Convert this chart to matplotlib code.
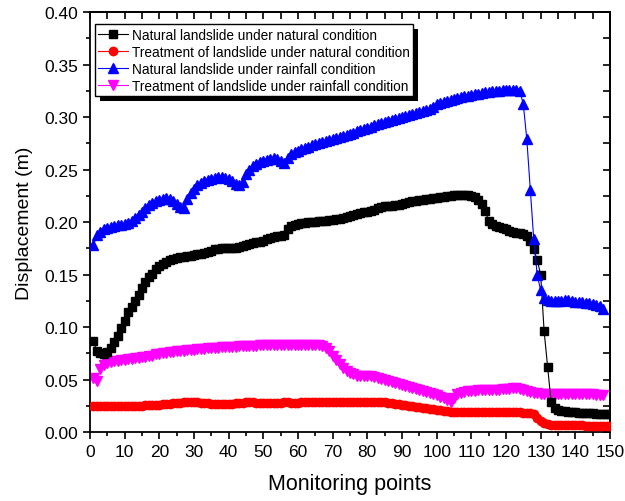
import numpy as np
import matplotlib
matplotlib.use("Agg")
import matplotlib.pyplot as plt
from matplotlib.patches import Rectangle
from matplotlib.ticker import MultipleLocator, FormatStrFormatter

plt.rcParams['font.family'] = ['Liberation Sans', 'DejaVu Sans']

# displacement (m) at monitoring points 1..150
natural_natural = [
    0.087, 0.077, 0.075, 0.074, 0.076, 0.080, 0.086, 0.092, 0.099, 0.106,
    0.114, 0.119, 0.125, 0.131, 0.137, 0.143, 0.148, 0.151, 0.155, 0.158,
    0.160, 0.162, 0.164, 0.165, 0.166, 0.167, 0.167, 0.168, 0.168, 0.169,
    0.170, 0.170, 0.171, 0.172, 0.173, 0.174, 0.174, 0.175, 0.175, 0.175,
    0.175, 0.175, 0.176, 0.177, 0.178, 0.179, 0.180, 0.181, 0.181, 0.182,
    0.184, 0.185, 0.186, 0.187, 0.187, 0.188, 0.193, 0.196, 0.197, 0.198,
    0.199, 0.199, 0.200, 0.200, 0.200, 0.201, 0.201, 0.201, 0.202, 0.202,
    0.203, 0.203, 0.204, 0.205, 0.206, 0.207, 0.208, 0.209, 0.210, 0.210,
    0.211, 0.212, 0.213, 0.214, 0.215, 0.215, 0.215, 0.216, 0.216, 0.217,
    0.218, 0.219, 0.220, 0.220, 0.221, 0.221, 0.222, 0.222, 0.223, 0.223,
    0.224, 0.224, 0.225, 0.225, 0.226, 0.226, 0.226, 0.226, 0.226, 0.225,
    0.224, 0.221, 0.217, 0.211, 0.201, 0.198, 0.196, 0.195, 0.194, 0.193,
    0.192, 0.191, 0.190, 0.190, 0.189, 0.187, 0.182, 0.174, 0.164, 0.150,
    0.096, 0.062, 0.029, 0.023, 0.021, 0.020, 0.020, 0.019, 0.019, 0.019,
    0.018, 0.018, 0.018, 0.018, 0.018, 0.017, 0.017, 0.017, 0.017, 0.017,
]

treated_natural = [
    0.025, 0.025, 0.025, 0.025, 0.025, 0.025, 0.025, 0.025, 0.025, 0.025,
    0.025, 0.025, 0.025, 0.025, 0.025, 0.026, 0.026, 0.026, 0.026, 0.026,
    0.027, 0.027, 0.027, 0.028, 0.028, 0.028, 0.029, 0.029, 0.029, 0.029,
    0.029, 0.028, 0.028, 0.028, 0.027, 0.027, 0.027, 0.027, 0.027, 0.027,
    0.027, 0.028, 0.028, 0.028, 0.029, 0.029, 0.029, 0.028, 0.028, 0.028,
    0.028, 0.028, 0.028, 0.028, 0.028, 0.029, 0.029, 0.028, 0.028, 0.028,
    0.029, 0.029, 0.029, 0.029, 0.029, 0.029, 0.029, 0.029, 0.029, 0.029,
    0.029, 0.029, 0.029, 0.029, 0.029, 0.029, 0.029, 0.029, 0.029, 0.029,
    0.029, 0.029, 0.029, 0.029, 0.029, 0.028, 0.028, 0.027, 0.027, 0.026,
    0.026, 0.025, 0.025, 0.024, 0.024, 0.023, 0.023, 0.022, 0.022, 0.021,
    0.021, 0.020, 0.020, 0.019, 0.019, 0.019, 0.019, 0.019, 0.019, 0.019,
    0.019, 0.019, 0.019, 0.019, 0.019, 0.019, 0.019, 0.019, 0.019, 0.019,
    0.019, 0.019, 0.019, 0.019, 0.018, 0.018, 0.018, 0.017, 0.014, 0.011,
    0.009, 0.008, 0.007, 0.007, 0.007, 0.007, 0.007, 0.007, 0.007, 0.007,
    0.007, 0.007, 0.006, 0.006, 0.006, 0.006, 0.006, 0.006, 0.006, 0.006,
]

# monitoring points 1..148
natural_rain = [
    0.178, 0.188, 0.191, 0.193, 0.194, 0.195, 0.196, 0.197, 0.197, 0.198,
    0.199, 0.201, 0.204, 0.207, 0.210, 0.213, 0.216, 0.218, 0.220, 0.221,
    0.222, 0.223, 0.222, 0.220, 0.217, 0.214, 0.213, 0.222, 0.228, 0.232,
    0.235, 0.237, 0.239, 0.240, 0.241, 0.242, 0.243, 0.243, 0.242, 0.241,
    0.239, 0.236, 0.235, 0.238, 0.246, 0.250, 0.253, 0.255, 0.257, 0.258,
    0.259, 0.260, 0.261, 0.260, 0.258, 0.256, 0.261, 0.265, 0.267, 0.268,
    0.270, 0.271, 0.272, 0.273, 0.274, 0.275, 0.276, 0.277, 0.278, 0.279,
    0.280, 0.281, 0.282, 0.283, 0.284, 0.285, 0.287, 0.288, 0.289, 0.290,
    0.291, 0.292, 0.293, 0.294, 0.295, 0.296, 0.297, 0.298, 0.299, 0.300,
    0.301, 0.302, 0.303, 0.304, 0.305, 0.306, 0.307, 0.308, 0.310, 0.312,
    0.313, 0.314, 0.315, 0.316, 0.317, 0.318, 0.319, 0.320, 0.320, 0.321,
    0.322, 0.322, 0.323, 0.324, 0.324, 0.325, 0.325, 0.325, 0.326, 0.326,
    0.326, 0.326, 0.326, 0.325, 0.312, 0.279, 0.231, 0.184, 0.150, 0.135,
    0.128, 0.126, 0.125, 0.125, 0.125, 0.125, 0.126, 0.126, 0.125, 0.124,
    0.124, 0.124, 0.123, 0.123, 0.122, 0.121, 0.120, 0.117,
]

treated_rain = [
    0.052, 0.049, 0.060, 0.064, 0.066, 0.067, 0.068, 0.068, 0.069, 0.069,
    0.070, 0.070, 0.071, 0.071, 0.072, 0.072, 0.073, 0.073, 0.074, 0.074,
    0.075, 0.075, 0.076, 0.076, 0.077, 0.077, 0.077, 0.078, 0.078, 0.078,
    0.079, 0.079, 0.079, 0.080, 0.080, 0.080, 0.080, 0.081, 0.081, 0.081,
    0.081, 0.081, 0.082, 0.082, 0.082, 0.082, 0.082, 0.082, 0.083, 0.083,
    0.083, 0.083, 0.083, 0.083, 0.083, 0.083, 0.083, 0.083, 0.083, 0.083,
    0.083, 0.083, 0.083, 0.083, 0.083, 0.083, 0.082, 0.080, 0.077, 0.073,
    0.069, 0.065, 0.061, 0.058, 0.056, 0.055, 0.054, 0.054, 0.054, 0.054,
    0.054, 0.053, 0.052, 0.051, 0.050, 0.049, 0.048, 0.047, 0.046, 0.045,
    0.044, 0.043, 0.042, 0.041, 0.040, 0.039, 0.038, 0.037, 0.036, 0.035,
    0.034, 0.033, 0.031, 0.029, 0.033, 0.036, 0.037, 0.038, 0.039, 0.039,
    0.039, 0.040, 0.040, 0.040, 0.040, 0.040, 0.040, 0.040, 0.041, 0.041,
    0.041, 0.042, 0.042, 0.041, 0.040, 0.039, 0.038, 0.037, 0.037, 0.036,
    0.036, 0.036, 0.036, 0.036, 0.036, 0.036, 0.036, 0.036, 0.036, 0.036,
    0.036, 0.036, 0.036, 0.036, 0.036, 0.035, 0.035, 0.035,
]

labels = [
    'Natural landslide under natural condition',
    'Treatment of landslide under natural condition',
    'Natural landslide under rainfall condition',
    'Treatment of landslide under rainfall condition',
]

fig = plt.figure(figsize=(6.25, 5.02), dpi=100)
ax = fig.add_axes([0.144, 0.137, 0.832, 0.837])

x_nat = np.arange(1, len(natural_natural) + 1)
x_rain = np.arange(1, len(natural_rain) + 1)

h1, = ax.plot(x_nat, natural_natural, color='black', lw=0.8, marker='s',
              ms=5.5, zorder=4, label=labels[0])
h2, = ax.plot(x_nat, treated_natural, color='red', lw=0.8, marker='o',
              ms=6, zorder=3, label=labels[1])
h3, = ax.plot(x_rain, natural_rain, color='blue', lw=0.8, marker='^',
              ms=6.5, zorder=5, label=labels[2])
h4, = ax.plot(x_rain, treated_rain, color='magenta', lw=0.8, marker='v',
              ms=6.5, zorder=2, label=labels[3])

ax.set_xlim(0, 150)
ax.set_ylim(0, 0.40)
ax.xaxis.set_major_locator(MultipleLocator(10))
ax.xaxis.set_minor_locator(MultipleLocator(5))
ax.yaxis.set_major_locator(MultipleLocator(0.05))
ax.yaxis.set_minor_locator(MultipleLocator(0.025))
ax.yaxis.set_major_formatter(FormatStrFormatter('%.2f'))
ax.tick_params(which='major', direction='out', length=5, width=1.2,
               labelsize=12.5)
ax.tick_params(which='minor', direction='out', length=3, width=1.2)

# inward ticks on the top and right edges
top = ax.secondary_xaxis('top')
top.xaxis.set_major_locator(MultipleLocator(5))
top.tick_params(direction='in', length=5, width=1.2, labeltop=False)
right = ax.secondary_yaxis('right')
right.yaxis.set_major_locator(MultipleLocator(0.025))
right.tick_params(direction='in', length=5, width=1.2, labelright=False)

for sp in list(ax.spines.values()) + [top.spines['top'], right.spines['right']]:
    sp.set_linewidth(1.3)

ax.set_xlabel('Monitoring points', fontsize=15.5, labelpad=10)
ax.set_ylabel('Displacement (m)', fontsize=14, labelpad=8)

leg = ax.legend(handles=[h1, h2, h3, h4], loc='upper left',
                bbox_to_anchor=(0.009, 0.971), fontsize=9.8, fancybox=False,
                edgecolor='black', framealpha=1, borderpad=0.25,
                labelspacing=0.22, handlelength=2.2, handletextpad=0.3,
                borderaxespad=0)
leg.get_frame().set_linewidth(1.0)
leg.set_zorder(10)

# solid black drop shadow behind the legend box (axes coordinates)
fig.canvas.draw()
bb = leg.get_frame().get_window_extent().transformed(ax.transAxes.inverted())
dx = 5 / (ax.bbox.width)
dy = 5 / (ax.bbox.height)
shadow = Rectangle((bb.x0 + dx, bb.y0 - dy), bb.width, bb.height,
                   transform=ax.transAxes, facecolor='black',
                   edgecolor='none', zorder=9, clip_on=False)
ax.add_patch(shadow)

fig.savefig('out.png', dpi=100)
